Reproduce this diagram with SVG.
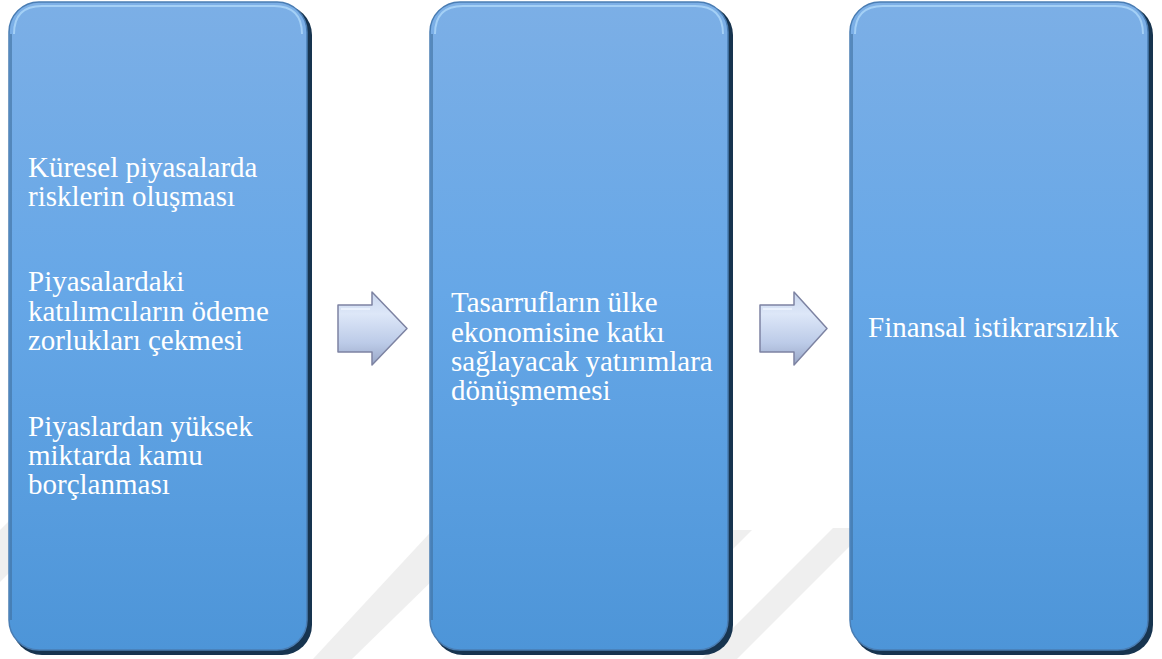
<svg xmlns="http://www.w3.org/2000/svg" width="1162" height="659" viewBox="0 0 1162 659">
<style>
.shadow{fill:#17344f}
.box{fill:url(#boxGrad);stroke:#4a7db3;stroke-width:1.5}
.hl{fill:none;stroke:#a9d4f7;stroke-width:2;opacity:0.9}
.lft{fill:none;stroke:#3f6f9f;stroke-width:2;opacity:0.6}
.txt{font-family:"Liberation Serif","Times New Roman",serif;font-size:29px;fill:#ffffff}
.arrow{fill:url(#arrGrad);stroke:#7d83a2;stroke-width:1.5;stroke-linejoin:round}
.arrhl{fill:none;stroke:#eef4ff;stroke-width:2;opacity:0.8}
.wm{fill:#efefef}
</style>
<defs>
<linearGradient id="boxGrad" x1="0" y1="0" x2="0" y2="1">
<stop offset="0" stop-color="#7cafe6"/>
<stop offset="0.45" stop-color="#66a7e7"/>
<stop offset="1" stop-color="#4d95d8"/>
</linearGradient>
<linearGradient id="arrGrad" x1="0" y1="0" x2="0" y2="1">
<stop offset="0" stop-color="#c9d6ee"/>
<stop offset="0.3" stop-color="#dde7f8"/>
<stop offset="0.7" stop-color="#bccbe8"/>
<stop offset="1" stop-color="#98a6c6"/>
</linearGradient>
</defs>
<rect x="0" y="0" width="1162" height="659" fill="#ffffff"/>
<g id="watermark">
<polygon class="wm" points="440,522 440,573 352,659 313,659"/>
<polygon class="wm" points="833,528 868,528 737,659 702,659"/>
<polygon class="wm" points="700,530 752,530 700,582"/>
<polygon class="wm" points="0,530 14,516 14,568 0,582"/>
</g>
<g id="node1">
<rect class="shadow" x="12" y="5" width="300" height="650" rx="30"/>
<rect class="box" x="9" y="2" width="298" height="648" rx="30"/>
<path class="hl" d="M14,34 Q14,6 42,6 L274,6 Q302,6 302,34"/>
<path class="lft" d="M11,34 L11,620"/>
<text class="txt" x="28" y="177">Küresel piyasalarda</text>
<text class="txt" x="28" y="206">risklerin oluşması</text>
<text class="txt" x="28" y="291">Piyasalardaki</text>
<text class="txt" x="28" y="321">katılımcıların ödeme</text>
<text class="txt" x="28" y="350">zorlukları çekmesi</text>
<text class="txt" x="28" y="436">Piyaslardan yüksek</text>
<text class="txt" x="28" y="465">miktarda kamu</text>
<text class="txt" x="28" y="494">borçlanması</text>
</g>
<g id="node2">
<rect class="shadow" x="433" y="5" width="300" height="650" rx="30"/>
<rect class="box" x="430" y="2" width="298" height="648" rx="30"/>
<path class="hl" d="M435,34 Q435,6 463,6 L695,6 Q723,6 723,34"/>
<path class="lft" d="M432,34 L432,620"/>
<text class="txt" x="451" y="312">Tasarrufların ülke</text>
<text class="txt" x="451" y="342">ekonomisine katkı</text>
<text class="txt" x="451" y="371">sağlayacak yatırımlara</text>
<text class="txt" x="451" y="400">dönüşmemesi</text>
</g>
<g id="node3">
<rect class="shadow" x="853" y="5" width="300" height="650" rx="30"/>
<rect class="box" x="850" y="2" width="298" height="648" rx="30"/>
<path class="hl" d="M855,34 Q855,6 883,6 L1115,6 Q1143,6 1143,34"/>
<path class="lft" d="M852,34 L852,620"/>
<text class="txt" x="868" y="337">Finansal istikrarsızlık</text>
</g>
<g id="connectors">
<g id="arrow1">
<path class="arrow" d="M338,305 L372,305 L372,292 L407,328.5 L372,365 L372,352 L338,352 Z"/>
<path class="arrhl" d="M341,309 L370,309"/>
</g>
<g id="arrow2">
<path class="arrow" d="M760,305 L794,305 L794,292 L827,328.5 L794,365 L794,352 L760,352 Z"/>
<path class="arrhl" d="M763,309 L792,309"/>
</g>
</g>
</svg>
